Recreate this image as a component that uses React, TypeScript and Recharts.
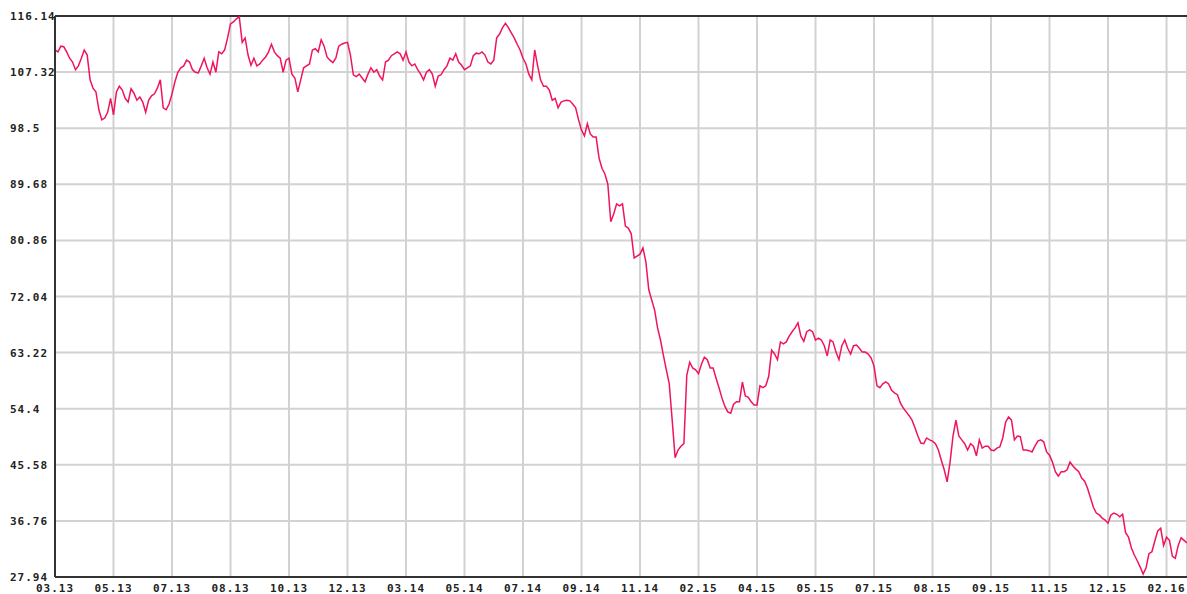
import React from "react";
import { LineChart, Line, XAxis, YAxis, CartesianGrid, ReferenceLine } from "recharts";

// Price series, one reading every trading step
const prices: number[] = [
  // 03.13 – 10.13
  110.8, 110.5, 111.4, 111.3, 110.5, 109.5, 108.9, 107.7, 108.3, 109.5,
  110.8, 110.0, 106.1, 104.8, 104.2, 101.4, 99.8, 100.1, 101.0, 103.2,
  100.6, 104.2, 105.1, 104.5, 103.2, 102.6, 104.7, 104.0, 102.9, 103.4,
  102.6, 101.0, 102.9, 103.6, 103.9, 104.8, 106.1, 101.7, 101.4, 102.3,
  103.9, 105.8, 107.3, 108.0, 108.3, 109.2, 108.9, 107.7, 107.3, 107.2,
  108.3, 109.5, 108.0, 107.0, 108.9, 107.3, 110.5, 110.2, 110.8, 112.7,
  114.9, 115.2, 115.7, 116.0, 112.0, 112.7, 110.0, 108.4, 109.5, 108.3,
  108.6, 109.2, 109.7, 110.5, 111.7, 110.5, 109.9, 109.5, 107.3, 109.2,
  // 10.13 – 07.14
  109.5, 107.0, 106.4, 104.2, 106.1, 108.0, 108.3, 108.6, 110.8, 111.0,
  110.5, 112.4, 111.4, 109.7, 109.2, 108.8, 109.5, 111.4, 111.7, 111.9,
  112.0, 110.0, 106.9, 106.6, 107.0, 106.4, 105.8, 107.0, 108.0, 107.3,
  107.7, 106.7, 106.1, 108.9, 109.2, 109.9, 110.2, 110.5, 110.2, 109.2,
  110.5, 108.9, 108.3, 108.6, 107.7, 107.0, 106.1, 107.3, 107.7, 107.0,
  105.1, 106.7, 106.9, 107.7, 108.3, 109.5, 109.2, 110.2, 108.9, 108.4,
  107.7, 108.0, 108.3, 109.9, 110.3, 110.2, 110.5, 110.0, 108.9, 108.6,
  109.2, 112.7, 113.3, 114.3, 115.0, 114.3, 113.5, 112.7, 111.7, 110.8,
  // 07.14 – 04.15
  109.5, 108.6, 107.0, 106.1, 110.8, 108.3, 106.1, 105.1, 105.1, 104.5,
  102.9, 103.2, 101.7, 102.6, 102.8, 102.9, 102.8, 102.3, 101.7, 99.8,
  98.2, 97.3, 99.2, 97.6, 97.1, 97.1, 93.8, 92.2, 91.3, 89.7,
  83.8, 85.0, 86.6, 86.3, 86.6, 83.1, 82.8, 81.9, 78.1, 78.4,
  78.7, 79.7, 77.5, 73.1, 71.5, 69.9, 67.1, 65.2, 62.8, 60.5,
  58.3, 52.6, 46.7, 47.9, 48.5, 48.9, 59.7, 61.7, 60.8, 60.5,
  59.9, 61.4, 62.5, 62.1, 60.8, 60.8, 59.2, 57.7, 56.1, 54.8,
  53.9, 53.7, 55.1, 55.5, 55.5, 58.6, 56.4, 56.2, 55.5, 55.0,
  // 04.15 – 08.15
  55.0, 58.0, 57.7, 58.0, 59.5, 63.6, 63.0, 62.1, 64.9, 64.6,
  64.9, 65.8, 66.5, 67.1, 67.9, 65.8, 65.0, 66.5, 66.8, 66.5,
  65.2, 65.5, 65.2, 64.3, 62.7, 65.2, 64.9, 63.3, 62.1, 64.3,
  65.2, 63.9, 63.0, 64.3, 64.4, 63.9, 63.3, 63.3, 63.0, 62.4,
  61.1, 58.0, 57.7, 58.3, 58.6, 58.3, 57.3, 56.9, 56.6, 55.3,
  54.5, 53.9, 53.3, 52.6, 51.4, 50.1, 49.0, 48.9, 49.8, 49.5,
  // 08.15 – 03.16
  49.3, 48.9, 47.9, 46.3, 44.8, 42.9, 46.0, 50.1, 52.6, 50.1,
  49.5, 48.9, 47.9, 48.9, 48.5, 47.0, 49.5, 48.2, 48.5, 48.5,
  47.9, 47.8, 48.2, 48.4, 49.8, 52.3, 53.1, 52.6, 49.5, 50.1,
  50.0, 47.9, 47.9, 47.8, 47.6, 48.5, 49.3, 49.5, 49.2, 47.6,
  47.1, 46.0, 44.5, 43.8, 44.5, 44.5, 44.8, 46.0, 45.4, 44.9,
  44.5, 43.5, 43.0, 41.9, 40.4, 38.9, 38.0, 37.7, 37.2, 36.9,
  36.4, 37.7, 38.0, 37.8, 37.4, 37.8, 34.9, 34.2, 32.5, 31.4,
  30.5, 29.5, 28.4, 29.4, 31.6, 31.9, 33.6, 35.2, 35.6, 32.9,
  34.2, 33.7, 31.2, 30.9, 32.9, 34.1, 33.7, 33.3,
];

const xTickLabels: string[] = [
  "03.13", "05.13", "07.13", "08.13", "10.13", "12.13", "03.14", "05.14", "07.14", "09.14",
  "11.14", "02.15", "04.15", "05.15", "07.15", "08.15", "09.15", "11.15", "12.15", "02.16",
];
const xTickStep = 20; // data points between labelled grid lines

const yTicks: number[] = [27.94, 36.76, 45.58, 54.4, 63.22, 72.04, 80.86, 89.68, 98.5, 107.32, 116.14];

const data = prices.map((v, i) => ({ i, v }));
const xTicks = xTickLabels.map((_, k) => k * xTickStep);

const FONT = "'DejaVu Sans Mono', monospace";

const YTick = (props: any) => {
  const { y, payload } = props;
  return (
    <text x={10} y={y} dy={4} textAnchor="start" fontFamily={FONT} fontWeight="bold" fontSize={11} letterSpacing={1} fill="#222">
      {String(payload.value)}
    </text>
  );
};

const XTick = (props: any) => {
  const { x, y, payload } = props;
  const idx = Math.round(payload.value / xTickStep);
  return (
    <text x={x} y={y} dy={7} textAnchor="middle" fontFamily={FONT} fontWeight="bold" fontSize={11} letterSpacing={1} fill="#222">
      {xTickLabels[idx]}
    </text>
  );
};

export default function App() {
  return (
    <div style={{ position: "absolute", left: 0, top: 0, width: 1187, height: 594, background: "#fff" }}>
      <LineChart width={1187} height={594} data={data} margin={{ top: 16, right: 0, bottom: 0, left: 0 }}>
        <CartesianGrid stroke="#d2d2d2" strokeWidth={2} />
        <XAxis
          dataKey="i"
          type="number"
          domain={[0, prices.length - 1]}
          ticks={xTicks}
          interval={0}
          height={17}
          tickLine={false}
          axisLine={{ stroke: "#333", strokeWidth: 2 }}
          tick={<XTick />}
        />
        <YAxis
          type="number"
          domain={[27.94, 116.14]}
          ticks={yTicks}
          interval={0}
          width={55}
          tickLine={false}
          axisLine={{ stroke: "#333", strokeWidth: 2 }}
          tick={<YTick />}
          allowDataOverflow
        />
        <ReferenceLine y={116.14} stroke="#333" strokeWidth={2} />
        <Line type="linear" dataKey="v" stroke="#f0155a" strokeWidth={1.5} dot={false} isAnimationActive={false} />
      </LineChart>
    </div>
  );
}
